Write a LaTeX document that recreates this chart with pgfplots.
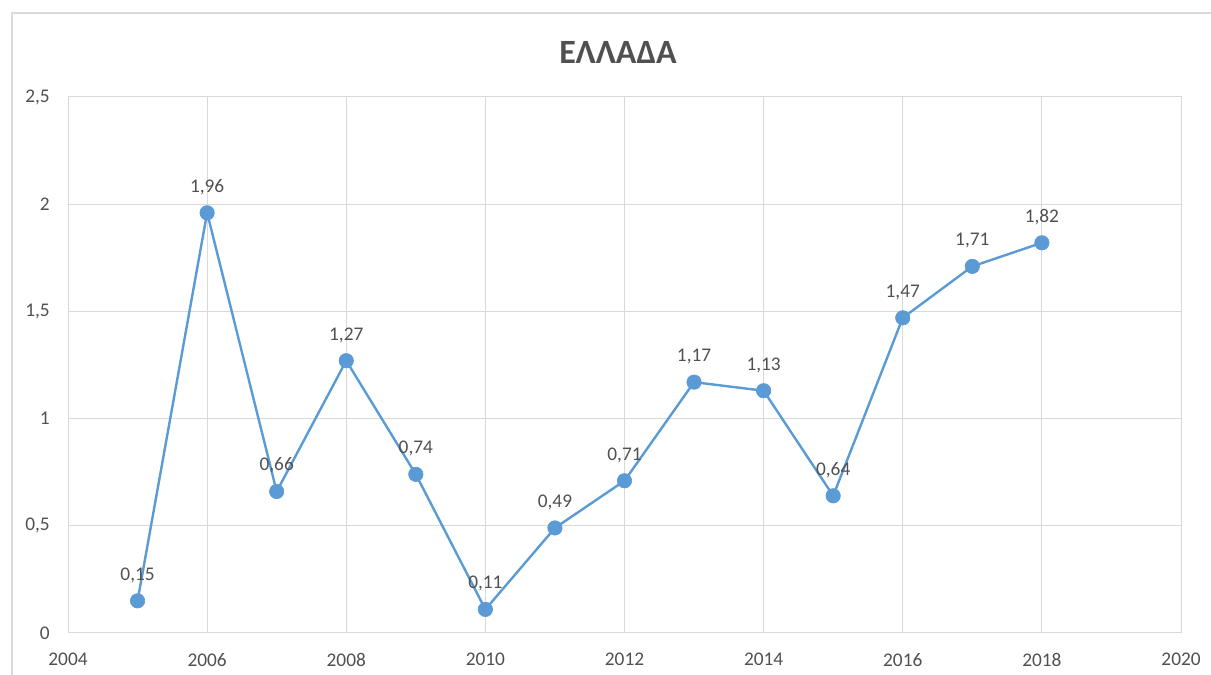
\documentclass[border=0pt]{standalone}
\usepackage{fontspec}
\setmainfont{Carlito}
\usepackage{pgfplots}
\pgfplotsset{compat=1.18}
\definecolor{lblue}{HTML}{5B9BD5}
\definecolor{tgray}{HTML}{505050}
\definecolor{ggray}{HTML}{D9D9D9}
\begin{document}
\begin{tikzpicture}
\useasboundingbox (0,0) rectangle (908.25pt,506.25pt);
\draw[ggray, line width=1.5pt] (9pt,-5pt) -- (9pt,496.5pt) -- (915pt,496.5pt);
\node[text=tgray, font=\fontsize{25.5}{28}\selectfont\bfseries] at (463.5pt,467.25pt) {ΕΛΛΑΔΑ};
\begin{axis}[
  at={(51pt,31.5pt)}, anchor=south west,
  width=834.75pt, height=402pt, scale only axis,
  xmin=2004, xmax=2020, ymin=0, ymax=2.5,
  xtick={2004,2006,...,2020}, ytick={0,0.5,1,1.5,2,2.5},
  /pgf/number format/assume math mode=true,
  /pgf/number format/use comma,
  /pgf/number format/1000 sep={},
  major tick length=0pt,
  grid=major,
  grid style={ggray, line width=0.75pt},
  axis line style={ggray, line width=0.75pt},
  tick label style={text=tgray, font=\fontsize{14.5}{16}\selectfont},
  xticklabel style={anchor=north, inner sep=0pt, yshift=-15pt},
  yticklabel style={anchor=east, inner sep=0pt, xshift=-13.5pt},
  nodes near coords,
  nodes near coords style={text=tgray, font=\fontsize{14.5}{16}\selectfont, anchor=base, inner sep=0pt, yshift=15.5pt,
    /pgf/number format/.cd, fixed, precision=2, fixed zerofill, use comma},
]
\addplot[color=lblue, line width=1.8pt, mark=*, mark size=5.4pt, mark options={fill=lblue, draw=lblue, line width=0.5pt}]
coordinates {
(2005,0.15) (2006,1.96) (2007,0.66) (2008,1.27) (2009,0.74) (2010,0.11) (2011,0.49)
(2012,0.71) (2013,1.17) (2014,1.13) (2015,0.64) (2016,1.47) (2017,1.71) (2018,1.82)
};
\end{axis}
\end{tikzpicture}
\end{document}
